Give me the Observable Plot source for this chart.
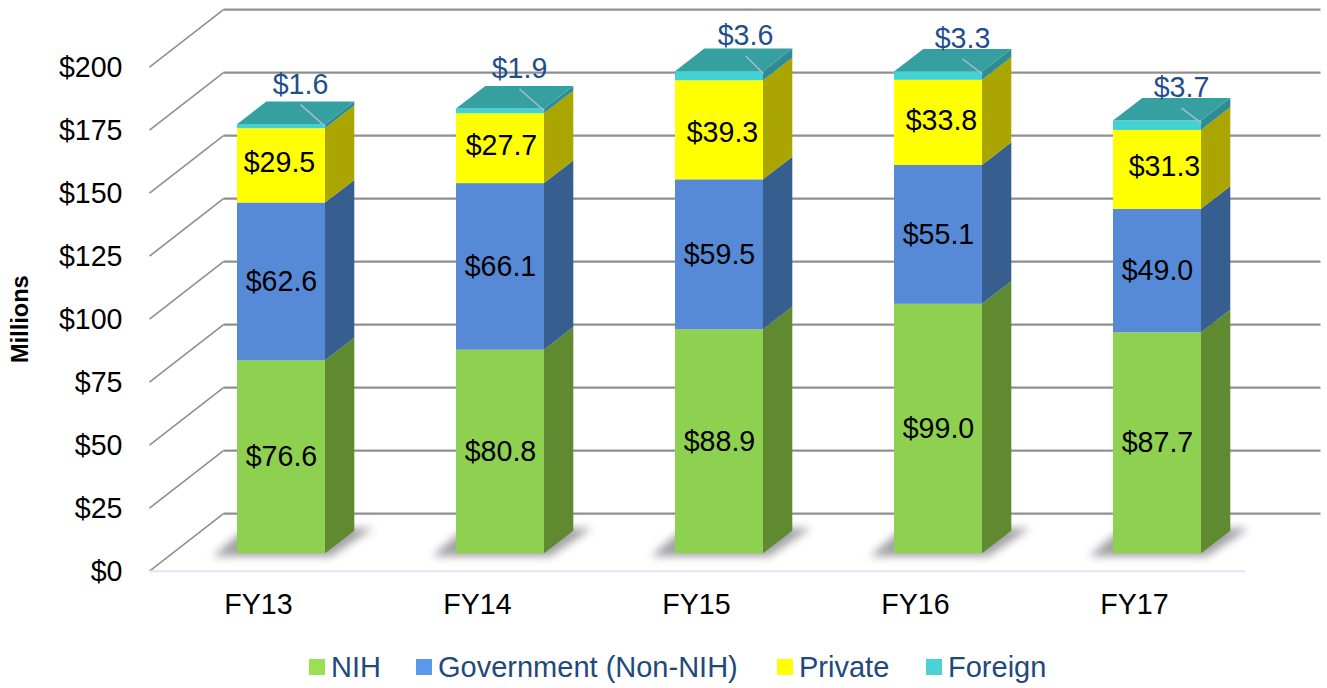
<!DOCTYPE html>
<html>
<head>
<meta charset="utf-8">
<script src="https://cdn.jsdelivr.net/npm/d3@7"></script>
<script src="https://cdn.jsdelivr.net/npm/@observablehq/plot@0.6"></script>
<style>
  html, body { margin: 0; padding: 0; background: #fff; overflow: hidden; }
  svg { display: block; }
  #legend { position: relative; height: 48px;
    font: 29px "Liberation Sans", Arial, sans-serif; color: #1f497d; }
  #legend .item { position: absolute; top: 6px; height: 42px; display: flex; align-items: center; gap: 6px; white-space: nowrap; }
  #legend .sw { width: 16px; height: 16px; display: inline-block; }
</style>
</head>
<body>
<div id="chart"></div>
<div id="legend"></div>
<script>
// Data (millions of dollars)
const years = ["FY13", "FY14", "FY15", "FY16", "FY17"];
const seriesNames = ["NIH", "Government (Non-NIH)", "Private", "Foreign"];
const nih = [76.6, 80.8, 88.9, 99.0, 87.7];
const government = [62.6, 66.1, 59.5, 55.1, 49.0];
const privateFunds = [29.5, 27.7, 39.3, 33.8, 31.3];
const foreign = [1.6, 1.9, 3.6, 3.3, 3.7];
const yTicks = [0, 25, 50, 75, 100, 125, 150, 175, 200];

// Styles
const frontColors = ["#8ed04f", "#568ad6", "#ffff00", "#42d2d2"];
const sideColors = ["#5f8a2f", "#365f8f", "#aba500", "#2f8c94"];
const legendColors = ["#9bdf52", "#5a98ec", "#ffff00", "#4cd2d4"];
const legendLeft = [309, 416, 777, 926];
const topColor = "#36a0a0";

// Layout of the oblique projection
const W = 1327, H = 640;
const STEP = 219, ORIGIN = 281, PXY = 2.52;
const px = n => n / STEP;            // pixels to x units
const py = n => n / PXY;             // pixels to y units
const HALF = px(44);
const BASE = py(17.4);               // bar floor, set back from the front edge
const BAR_DX = px(29.3), BAR_DY = py(22.6);
const WALL_DX = px(74), WALL_DY = py(57.5);
const FRONT_X = px(149 - ORIGIN), BASE_END = px(1245 - ORIGIN), GRID_END = px(1320 - ORIGIN);

// Build stacked segments
const columns = [nih, government, privateFunds, foreign];
const segs = [];
years.forEach((year, i) => {
  let y0 = BASE;
  columns.forEach((col, s) => {
    const y1 = y0 + col[i];
    segs.push({year, i, s, series: seriesNames[s], value: col[i], y0, y1});
    y0 = y1;
  });
});
const tops = segs.filter(d => d.s === 3);

const sidePts = segs.flatMap(d => [
  {...d, x: d.i + HALF, a: d.y0, b: d.y1},
  {...d, x: d.i + HALF + BAR_DX, a: d.y0 + BAR_DY, b: d.y1 + BAR_DY}
]);
const topPts = tops.flatMap(d => [
  {...d, xa: d.i - HALF, xb: d.i + HALF, yy: d.y1},
  {...d, xa: d.i - HALF + BAR_DX, xb: d.i + HALF + BAR_DX, yy: d.y1 + BAR_DY}
]);
const shadowPts = years.flatMap((year, i) => [
  {i, xa: i - px(68), xb: i + px(50), yy: BASE - py(3)},
  {i, xa: i - px(35), xb: i + px(92), yy: BASE + py(25)}
]);

const money = v => "$" + v.toFixed(1);
const valueFont = {fontSize: 28.6, fontFamily: "Liberation Sans, Arial, sans-serif"};

const barMarks = seriesNames.flatMap((name, s) => [
  Plot.area(sidePts.filter(d => d.s === s), {
    x1: "x", x2: "x", y1: "a", y2: "b", z: "year", fill: sideColors[s]
  }),
  Plot.rect(segs.filter(d => d.s === s), {
    x1: d => d.i - HALF, x2: d => d.i + HALF, y1: "y0", y2: "y1", fill: frontColors[s]
  })
]);

// Private labels are hand-placed in the original, so each has its own nudge
const privateNudges = [
  {year: "FY13", dx: -2, dy: -3},
  {year: "FY14", dx: 1, dy: -3},
  {year: "FY15", dx: 3, dy: 3},
  {year: "FY16", dx: 3, dy: -2},
  {year: "FY17", dx: 7, dy: -3}
];
const privateMarks = privateNudges.map(n =>
  Plot.text(segs.filter(d => d.s === 2 && d.year === n.year), {
    x: "i", y: d => (d.y0 + d.y1) / 2, dx: n.dx, dy: n.dy,
    text: d => money(d.value), fill: "#000", ...valueFont
  })
);

// Foreign labels sit at three different offsets above the bar tops
const foreignGroups = [
  {names: ["FY13", "FY14"], dx: 19, dy: -40},
  {names: ["FY15"], dx: 26, dy: -36},
  {names: ["FY16", "FY17"], dx: 24, dy: -33}
];
const foreignMarks = foreignGroups.flatMap(g => {
  const rows = tops.filter(d => g.names.includes(d.year));
  return [
    Plot.link(rows, {
      x1: d => d.i + px(g.dx), y1: d => d.y1 - py(g.dy + 20),
      x2: d => d.i + HALF, y2: d => d.y1 - py(2),
      stroke: "#a9b8dd", strokeWidth: 1.5
    }),
    Plot.text(rows, {
      x: "i", y: "y1", dx: g.dx, dy: g.dy, text: d => money(d.value),
      fill: "#1f4e8c", ...valueFont
    })
  ];
});

const chart = Plot.plot({
  width: W, height: H,
  marginLeft: 131, marginRight: 0, marginTop: 0, marginBottom: 47,
  x: {type: "linear", domain: [-ORIGIN / STEP, (W - ORIGIN) / STEP], range: [0, W]},
  y: {type: "linear", domain: [0, 200], range: [570.7, 66.7]},
  marks: [
    // wall and floor grid
    Plot.link(yTicks, {
      x1: FRONT_X, y1: d => d, x2: FRONT_X + WALL_DX, y2: d => d + WALL_DY,
      stroke: "#8f8f8f", strokeWidth: 1.6
    }),
    Plot.link(yTicks, {
      x1: FRONT_X + WALL_DX, y1: d => d + WALL_DY, x2: GRID_END, y2: d => d + WALL_DY,
      stroke: "#8f8f8f", strokeWidth: 2.2
    }),
    Plot.link([0], {
      x1: FRONT_X, x2: BASE_END, y1: 0, y2: 0, stroke: "#dfe5f3", strokeWidth: 2
    }),
    // floor shadows
    Plot.area(shadowPts, {
      x1: "xa", x2: "xb", y1: "yy", y2: "yy", z: "i",
      fill: "#a2a2a6", imageFilter: "blur(4px)"
    }),
    // bars
    ...barMarks,
    Plot.area(topPts, {
      x1: "xa", x2: "xb", y1: "yy", y2: "yy", z: "year", fill: topColor
    }),
    // value labels
    Plot.text(segs.filter(d => d.s < 2), {
      x: "i", y: d => (d.y0 + d.y1) / 2, text: d => money(d.value), fill: "#000", ...valueFont
    }),
    ...privateMarks,
    ...foreignMarks,
    // axes
    Plot.axisY({
      anchor: "left", ticks: yTicks, tickSize: 0, tickPadding: 9, dy: 0.5,
      tickFormat: d => "$" + d, label: null, stroke: "none", fill: "#000", ...valueFont
    }),
    Plot.axisX({
      anchor: "bottom", ticks: [0, 1, 2, 3, 4], tickSize: 0, tickPadding: 0, dx: -23,
      tickFormat: i => years[i], label: null, fill: "#000", ...valueFont
    }),
    Plot.text(["Millions"], {
      frameAnchor: "left", y: () => 100, dx: -111, rotate: -90, text: d => d, textAnchor: "middle",
      fontSize: 23.6, fontWeight: "bold", fill: "#000", fontFamily: valueFont.fontFamily
    })
  ]
});
document.getElementById("chart").append(chart);

const legend = d3.select("#legend");
seriesNames.forEach((name, s) => {
  const item = legend.append("div").attr("class", "item").style("left", legendLeft[s] + "px");
  item.append("span").attr("class", "sw").style("background", legendColors[s]);
  item.append("span").text(name);
});
</script>
</body>
</html>
